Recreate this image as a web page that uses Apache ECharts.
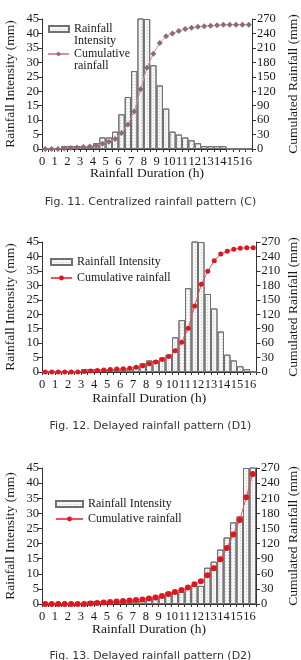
<!DOCTYPE html>
<html>
<head>
<meta charset="utf-8">
<script src="https://cdn.jsdelivr.net/npm/echarts@6/dist/echarts.min.js"></script>
<style>
  html, body { margin: 0; padding: 0; background: #fff; }
  #chart { width: 301px; height: 660px; }
</style>
</head>
<body>
<div id="chart"></div>
<script>
// half-hour steps of the 16 h storm (one bar each)
const slots = ['0', '0.5', '1', '1.5', '2', '2.5', '3', '3.5', '4', '4.5', '5', '5.5',
  '6', '6.5', '7', '7.5', '8', '8.5', '9', '9.5', '10', '10.5', '11', '11.5',
  '12', '12.5', '13', '13.5', '14', '14.5', '15', '15.5', '16'];
// bar edges; only the whole hours get a label
const tickLabels = ['0', '', '1', '', '2', '', '3', '', '4', '', '5', '',
  '6', '', '7', '', '8', '', '9', '', '10', '', '11', '',
  '12', '', '13', '', '14', '', '15', '', '16', ''];

const intensityC = [0, 0, 0, 1, 1, 1, 1, 1, 2, 4, 4, 6, 12, 18, 27, 46, 45,
  29, 22, 14, 6, 5, 4, 3, 2, 1, 1, 1, 1, 0, 0, 0, 0];
const cumulativeC = [0, 0, 0, 1, 2, 3, 4, 5, 7, 11, 15, 21, 33, 51, 78, 124, 169,
  198, 220, 234, 240, 245, 249, 252, 254, 255, 256, 257, 258, 258, 258, 258, 258];

const intensityD1 = [0, 0, 0, 0, 0, 0, 1, 1, 1, 1, 1, 1, 1, 1, 2, 3, 4,
  4, 5, 6, 12, 18, 29, 46, 45, 27, 22, 14, 6, 4, 2, 1, 0];
const cumulativeD1 = [0, 0, 0, 0, 0, 0, 1, 2, 3, 4, 5, 6, 7, 8, 10, 13, 17,
  21, 26, 32, 44, 62, 91, 137, 182, 209, 231, 245, 251, 255, 257, 258, 258];

const intensityD2 = [0, 0, 0, 0, 0, 0, 0, 1, 1, 1, 1, 1, 1, 1, 1, 1, 2,
  2, 3, 4, 4, 4, 5, 6, 6, 12, 14, 18, 22, 27, 29, 45, 46];
const cumulativeD2 = [0, 0, 0, 0, 0, 0, 0, 1, 2, 3, 4, 5, 6, 7, 8, 9, 11,
  13, 16, 20, 24, 28, 33, 39, 45, 57, 71, 89, 111, 138, 167, 212, 258];

const captions = [
  'Fig. 11. Centralized rainfall pattern (C)',
  'Fig. 12. Delayed rainfall pattern (D1)',
  'Fig. 13. Delayed rainfall pattern (D2)'
];

const serif = 'Liberation Serif';
const ink = '#1a1a1a';

const barStyle = {
  color: '#f6f6f6',
  borderColor: '#707070',
  borderWidth: 1,
  decal: {
    symbol: 'rect',
    symbolSize: 1,
    dashArrayX: [1, 2],
    dashArrayY: [1, 2],
    color: '#cdcdcd'
  }
};

const panels = [
  {
    grid: { left: 42, top: 19, width: 210, height: 130, outerBoundsMode: 'none' },
    leftGap: 25, rightGap: 34, xGap: 17,
    bars: intensityC, cum: cumulativeC,
    barName: 'Rainfall\nIntensity', lineName: 'Cumulative\nrainfall',
    lineColor: '#d6939f', markColor: '#8c6b78', symbol: 'diamond', symbolSize: 6
  },
  {
    grid: { left: 42, top: 242, width: 214.5, height: 130, outerBoundsMode: 'none' },
    leftGap: 25, rightGap: 30, xGap: 19,
    bars: intensityD1, cum: cumulativeD1,
    barName: 'Rainfall Intensity', lineName: 'Cumulative rainfall',
    lineColor: '#e8545a', markColor: '#e0161e', symbol: 'circle', symbolSize: 5
  },
  {
    grid: { left: 42, top: 468, width: 214, height: 136, outerBoundsMode: 'none' },
    leftGap: 25, rightGap: 30, xGap: 18,
    bars: intensityD2, cum: cumulativeD2,
    barName: 'Rainfall Intensity ', lineName: 'Cumulative rainfall ',
    lineColor: '#e8545a', markColor: '#e0161e', symbol: 'circle', symbolSize: 6
  }
];

const option = {
  animation: false,
  textStyle: { fontFamily: serif },
  title: [],
  grid: [],
  xAxis: [],
  yAxis: [],
  legend: [],
  series: []
};

panels.forEach((p, i) => {
  option.grid.push(p.grid);

  // bars and line live on this one (kept at the top as the light frame line)
  option.xAxis.push({
    type: 'category', gridIndex: i, position: 'top', data: slots,
    boundaryGap: true,
    axisLine: { lineStyle: { color: '#d6d6d6' } },
    axisTick: { show: false }, axisLabel: { show: false }
  });
  // bottom axis: ticks on bar edges, hour labels
  option.xAxis.push({
    type: 'category', gridIndex: i, position: 'bottom', data: tickLabels,
    boundaryGap: false,
    name: 'Rainfall Duration (h)', nameLocation: 'middle', nameGap: p.xGap,
    nameMoveOverlap: false,
    nameTextStyle: { fontFamily: serif, fontSize: 13.5, color: ink },
    axisLine: { lineStyle: { color: '#333' } },
    axisTick: { interval: 0, length: 3, lineStyle: { color: '#333' } },
    axisLabel: {
      interval: 0, margin: 6, hideOverlap: false,
      fontFamily: serif, fontSize: 12.5, color: ink
    }
  });

  option.yAxis.push({
    type: 'value', gridIndex: i, position: 'left', min: 0, max: 45, interval: 5,
    name: 'Rainfall Intensity (mm)', nameLocation: 'middle', nameRotate: 90, nameGap: p.leftGap,
    nameMoveOverlap: false,
    nameTextStyle: { fontFamily: serif, fontSize: 13.5, color: ink },
    splitLine: { show: false },
    axisLine: { show: true, lineStyle: { color: '#333' } },
    axisTick: { show: true, length: 4, lineStyle: { color: '#333' } },
    axisLabel: { margin: 3, fontFamily: serif, fontSize: 12.5, color: ink }
  });
  option.yAxis.push({
    type: 'value', gridIndex: i, position: 'right', min: 0, max: 270, interval: 30,
    name: 'Cumulated Rainfall (mm)', nameLocation: 'middle', nameRotate: 90, nameGap: p.rightGap,
    nameMoveOverlap: false,
    nameTextStyle: { fontFamily: serif, fontSize: 13.5, color: ink },
    splitLine: { show: false },
    axisLine: { show: true, lineStyle: { color: '#333' } },
    axisTick: { show: true, length: 4, lineStyle: { color: '#333' } },
    axisLabel: { margin: 5, fontFamily: serif, fontSize: 12.5, color: ink }
  });

  option.series.push({
    name: p.barName, type: 'bar',
    xAxisIndex: i * 2, yAxisIndex: i * 2,
    data: p.bars, barWidth: '100%', barCategoryGap: 0,
    itemStyle: barStyle
  });
  option.series.push({
    name: p.lineName, type: 'line',
    xAxisIndex: i * 2, yAxisIndex: i * 2 + 1,
    data: p.cum, symbol: p.symbol, symbolSize: p.symbolSize,
    showSymbol: true, showAllSymbol: true,
    lineStyle: { color: p.lineColor, width: 1 },
    itemStyle: { color: p.markColor }, z: 3
  });
});

// legends; in fig. 11 the symbol sits on the first of two text lines
const legendText = { fontFamily: serif, fontSize: 12, color: ink };
const firstLine = name => '\n' + name;
option.legend.push(
  {
    data: [{ name: panels[0].barName, icon: 'rect' }], left: 48, top: 11, padding: 0,
    itemWidth: 20, itemHeight: 6, formatter: firstLine,
    textStyle: Object.assign({ lineHeight: 12 }, legendText)
  },
  {
    data: [panels[0].lineName], left: 47, top: 36, padding: 0,
    itemWidth: 21, itemHeight: 6, formatter: firstLine,
    textStyle: Object.assign({ lineHeight: 12 }, legendText)
  },
  {
    data: [{ name: panels[1].barName, icon: 'rect' }, panels[1].lineName],
    orient: 'vertical', left: 50, top: 255, padding: 0, itemGap: 2,
    itemWidth: 21, itemHeight: 6,
    textStyle: Object.assign({ lineHeight: 14 }, legendText)
  },
  {
    data: [{ name: panels[2].barName, icon: 'rect' }, panels[2].lineName],
    orient: 'vertical', left: 55, top: 497, padding: 0, itemGap: 1,
    itemWidth: 27, itemHeight: 6,
    textStyle: Object.assign({ lineHeight: 14 }, legendText)
  }
);

// figure captions
[197, 421, 651].forEach((top, i) => {
  option.title.push({
    text: captions[i], left: 'center', top: top, padding: 0,
    textStyle: { fontFamily: 'DejaVu Sans', fontSize: 11, fontWeight: 'normal', color: '#333' }
  });
});

const myChart = echarts.init(document.getElementById('chart'));
myChart.setOption(option);
</script>
</body>
</html>
